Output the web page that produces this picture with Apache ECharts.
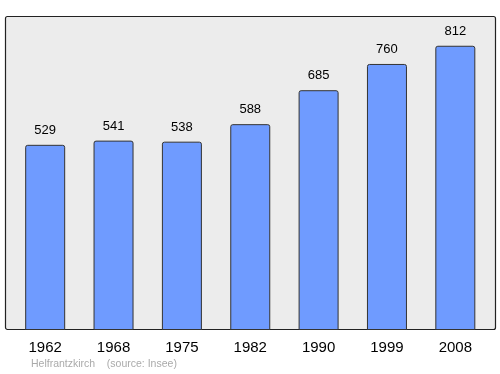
<!DOCTYPE html>
<html><head><meta charset="utf-8">
<script src="https://cdn.jsdelivr.net/npm/echarts@6/dist/echarts.min.js"></script>
<style>html,body{margin:0;padding:0;background:#fff}#c{width:500px;height:374px}</style>
</head><body><div id="c"></div>
<script>
const years = ['1962','1968','1975','1982','1990','1999','2008'];
const population = [529, 541, 538, 588, 685, 760, 812];
const footer = 'Helfrantzkirch    (source: Insee)';

const chart = echarts.init(document.getElementById('c'));
chart.setOption({
  animation: false,
  graphic: [
    {type: 'rect', shape: {x: 5.5, y: 16.5, width: 490, height: 313, r: 2}, style: {fill: '#ececec', stroke: '#222', lineWidth: 1.2}, z: -10},
    {type: 'text', left: 31, top: 359, style: {text: footer, fill: '#aaaaaa', font: '10.5px "Liberation Sans", Arial, sans-serif'}}
  ],
  grid: {left: 11, right: 10.5, top: 16, bottom: 44},
  xAxis: {type: 'category', data: years, axisLine: {show: false}, axisTick: {show: false},
    axisLabel: {color: '#000', fontSize: 15, fontFamily: 'Liberation Sans', margin: 10}},
  yAxis: {type: 'value', min: 0, max: 897, show: false, splitLine: {show: false}},
  series: [{type: 'bar', data: population, barWidth: 40,
    itemStyle: {color: '#6f9bff', borderColor: '#333', borderWidth: 1, borderRadius: [2,2,0,0]},
    label: {show: true, position: 'top', distance: 8, color: '#000', fontSize: 13, fontFamily: 'Liberation Sans'}}]
});
</script></body></html>
